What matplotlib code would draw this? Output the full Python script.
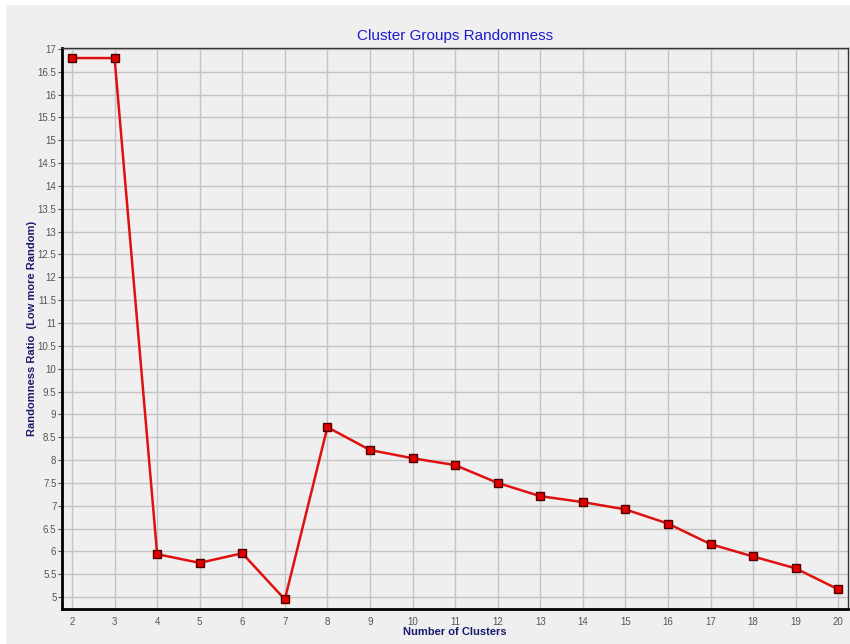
import matplotlib
matplotlib.use("Agg")
import matplotlib.pyplot as plt
from matplotlib.patches import Rectangle

# number of clusters vs randomness ratio
clusters = [2, 3, 4, 5, 6, 7, 8, 9, 10, 11, 12, 13, 14, 15, 16, 17, 18, 19, 20]
ratio = [16.8, 16.8, 5.94, 5.75, 5.96, 4.95, 8.72, 8.22, 8.04, 7.89, 7.50,
         7.21, 7.08, 6.92, 6.61, 6.16, 5.89, 5.63, 5.17]

y_ticks = [5 + 0.5 * i for i in range(25)]
y_labels = [("%g" % v) for v in y_ticks]

plt.rcParams['font.family'] = ['Liberation Sans', 'DejaVu Sans']

bg = '#efefef'
fig = plt.figure(figsize=(8.5, 6.44), dpi=100, facecolor='white')
fig.patches.append(Rectangle((6 / 850, 0), 1, 1 - 5 / 644, transform=fig.transFigure,
                             facecolor=bg, edgecolor='none', zorder=-1))

ax = fig.add_axes([62 / 850, 1 - 609 / 644, 786 / 850, 561 / 644])
ax.set_facecolor(bg)

ax.plot(clusters, ratio, color='#e01010', lw=1.8, marker='s', markersize=6,
        markerfacecolor='#e00000', markeredgecolor='#500000', markeredgewidth=1, zorder=3)

ax.set_xlim(1.765, 20.23)
ax.set_ylim(4.74, 17.02)
ax.set_xticks(clusters)
ax.set_yticks(y_ticks)
ax.set_yticklabels(y_labels)
ax.grid(True, color='#c4c4c4', lw=1)
ax.set_axisbelow(True)

ax.tick_params(axis='both', labelsize=7, colors='#555555', length=3, width=0.8)
ax.tick_params(axis='y', pad=1)
ax.tick_params(axis='x', length=0, pad=6)

for side in ['left', 'bottom']:
    ax.spines[side].set_linewidth(2)
    ax.spines[side].set_color('black')
for side in ['top', 'right']:
    ax.spines[side].set_linewidth(1)
    ax.spines[side].set_color('#333333')

ax.set_title('Cluster Groups Randomness', color='#1a1acc', fontsize=11, pad=5.5)
ax.set_xlabel('Number of Clusters', color='#1a1a6e', fontsize=8, fontweight='bold', labelpad=0)
ax.set_ylabel('Randomness Ratio  (Low more Random)', color='#1a1a6e', fontsize=8,
              fontweight='bold')
ax.yaxis.set_label_coords(-0.032, 0.5)

fig.savefig('out.png', dpi=100, facecolor=fig.get_facecolor())
